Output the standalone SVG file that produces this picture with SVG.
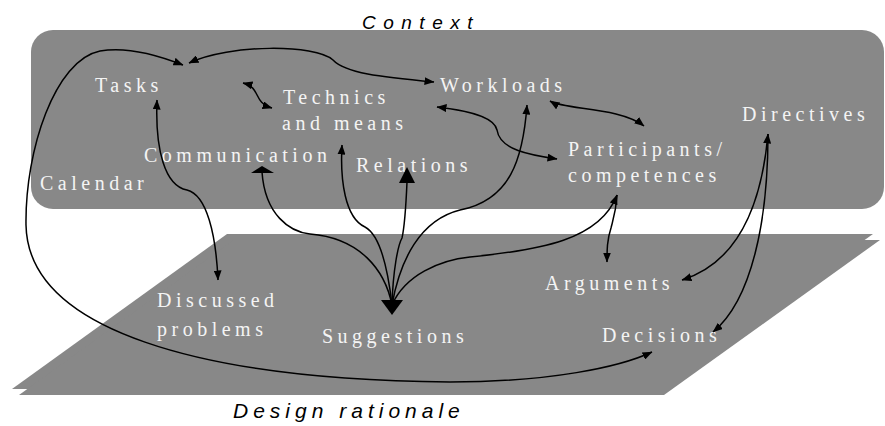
<svg xmlns="http://www.w3.org/2000/svg" width="885" height="426" viewBox="0 0 885 426">
  <style>
    .plane { fill: #888888; stroke: none; }
    .lbl { font-family: "Liberation Serif", "Times New Roman", serif; font-size: 20px; letter-spacing: 4.5px; fill: #f4f4f4; }
    .title { font-family: "Liberation Sans", Arial, sans-serif; font-style: italic; fill: #000000; }
    .conn { fill: none; stroke: #000000; stroke-width: 1.5; }
    .head { fill: #000000; stroke: none; }
  </style>
  <defs>
    <marker id="arr" viewBox="0 0 10 8" refX="9.5" refY="4" markerWidth="10" markerHeight="8" markerUnits="userSpaceOnUse" orient="auto-start-reverse">
      <path d="M0,0 L10,4 L0,8 z" fill="#000000"/>
    </marker>
  </defs>

  <!-- Layers -->
  <g id="layer-context">
    <rect class="plane" x="31" y="30" width="853" height="179" rx="22" ry="22"/>
    <text class="title" x="362" y="29" font-size="19" letter-spacing="7.5">Context</text>
  </g>
  <g id="layer-design-rationale">
    <polygon class="plane" points="227,234 873,234 657,389 12,389"/>
    <polygon class="plane" points="234,240 880,240 664,395 19,395"/>
    <text class="title" x="233" y="418" font-size="21" letter-spacing="5">Design rationale</text>
  </g>

  <!-- Context nodes -->
  <g id="node-tasks"><text class="lbl" x="95" y="92">Tasks</text></g>
  <g id="node-technics"><text class="lbl" x="283" y="104">Technics</text><text class="lbl" x="282" y="130">and means</text></g>
  <g id="node-workloads"><text class="lbl" x="440" y="92">Workloads</text></g>
  <g id="node-directives"><text class="lbl" x="742" y="121">Directives</text></g>
  <g id="node-communication"><text class="lbl" x="144" y="162">Communication</text></g>
  <g id="node-relations"><text class="lbl" x="356" y="172">Relations</text></g>
  <g id="node-participants"><text class="lbl" x="568" y="156">Participants/</text><text class="lbl" x="568" y="182">competences</text></g>
  <g id="node-calendar"><text class="lbl" x="40" y="190">Calendar</text></g>

  <!-- Design rationale nodes -->
  <g id="node-discussed"><text class="lbl" x="157" y="307">Discussed</text><text class="lbl" x="157" y="336">problems</text></g>
  <g id="node-suggestions"><text class="lbl" x="322" y="343">Suggestions</text></g>
  <g id="node-arguments"><text class="lbl" x="545" y="290">Arguments</text></g>
  <g id="node-decisions"><text class="lbl" x="602" y="342">Decisions</text></g>

  <!-- Connectors -->
  <g id="connectors">
    <!-- Tasks <-> Decisions, long loop round the left -->
    <path class="conn" marker-start="url(#arr)" marker-end="url(#arr)" d="M183,65 C150,52 122,47 100,51 C55,60 25,150 26,225 C28,330 200,380 450,382 C550,382 620,367 652,352"/>
    <!-- Tasks <-> Workloads -->
    <path class="conn" marker-start="url(#arr)" marker-end="url(#arr)" d="M189,63 C230,44 315,44 333,60 C345,73 380,77 434,82"/>
    <!-- Tasks <-> Technics -->
    <path class="conn" marker-start="url(#arr)" marker-end="url(#arr)" d="M243,83 C262,88 252,102 272,108"/>
    <!-- Tasks <-> Discussed problems -->
    <path class="conn" marker-start="url(#arr)" marker-end="url(#arr)" d="M157,100 C155,150 165,186 187,190 C207,195 216,235 218,280"/>
    <!-- Technics <-> Participants -->
    <path class="conn" marker-start="url(#arr)" marker-end="url(#arr)" d="M437,107 C480,112 495,120 497,130 C500,150 530,155 557,159"/>
    <!-- Workloads <-> Participants -->
    <path class="conn" marker-start="url(#arr)" marker-end="url(#arr)" d="M550,101 C565,110 620,107 644,126"/>

    <!-- Suggestions fan -->
    <path class="conn" d="M262,172 C265,215 290,232 310,234 C360,238 385,270 392,305"/>
    <path class="conn" marker-end="url(#arr)" d="M392,305 C388,270 380,235 365,227 C345,218 340,180 342,145"/>
    <path class="conn" d="M392,305 C393,270 398,245 402,238 C405,225 406,205 407,182"/>
    <path class="conn" marker-end="url(#arr)" d="M392,305 C400,260 420,220 460,210 C510,200 523,160 527,105"/>
    <path class="conn" marker-end="url(#arr)" d="M392,305 C405,275 440,260 470,257 C540,250 600,240 617,195"/>
    <polygon class="head" points="251,173 274,173 262,166"/>
    <polygon class="head" points="399,183 415,183 407,167"/>
    <polygon class="head" points="381,300 403,300 392,315"/>

    <!-- Participants <-> Arguments -->
    <path class="conn" marker-end="url(#arr)" d="M617,195 C616,212 613,220 611,228 C607,240 607,250 607,262"/>

    <!-- Directives -> Arguments / Decisions -->
    <path class="conn" marker-start="url(#arr)" marker-end="url(#arr)" d="M768,134 C762,200 740,262 682,280"/>
    <path class="conn" marker-end="url(#arr)" d="M768,134 C768,220 752,300 713,332"/>
  </g>
</svg>
